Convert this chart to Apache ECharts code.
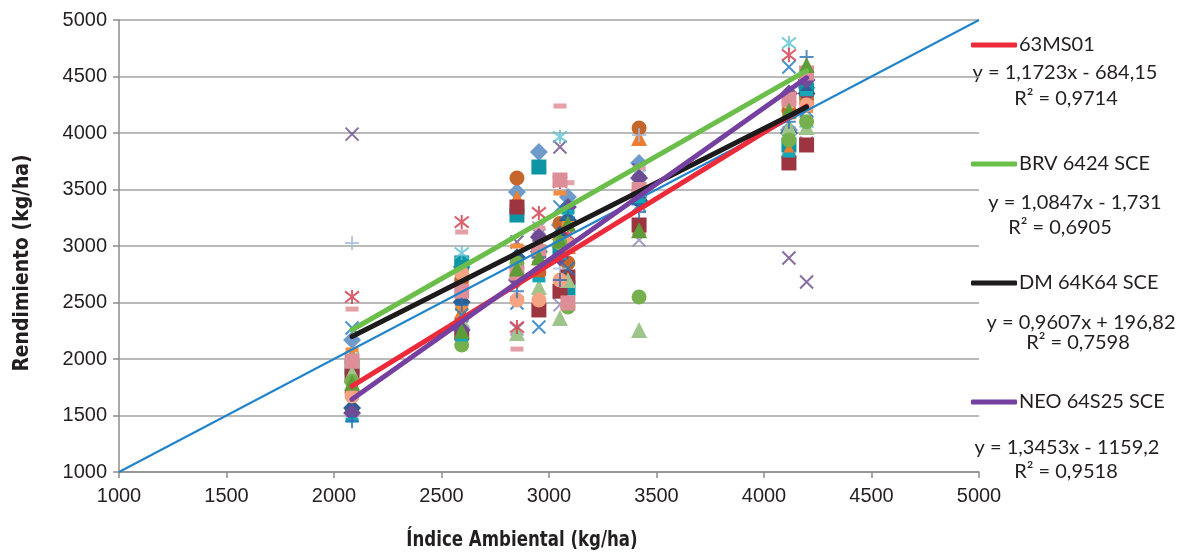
<!DOCTYPE html>
<html>
<head>
<meta charset="utf-8">
<script src="https://cdn.jsdelivr.net/npm/echarts@6/dist/echarts.min.js"></script>
<style>
  html, body { margin: 0; padding: 0; background: #fff; }
  #chart { width: 1180px; height: 556px; }
</style>
</head>
<body>
<div id="chart"></div>
<script>
// Environmental index of each trial site (kg/ha)
const envIndex = [2084, 2594, 2851, 2953, 3051, 3088, 3419, 4116, 4198];

// Yield of each cultivar at every site (kg/ha), same order as envIndex
const c01 = [2168, 2814, 3478, 3832, 3186, 3434, 3735, 4027, 4400];
const c02 = [1929, 2850, 3274, 3699, 2938, 2628, 3425, 3894, 4380];
const c03 = [2035, 2420, 3425, 3027, 3124, 3000, 3956, 3850, 4330];
const c04 = [3990, 2300, 3035, 3097, 3876, 3300, 3673, 2894, 2681];
const c05 = [1600, 2280, 2265, 3160, 2480, 2720, 3053, 4000, 3911];
const c06 = [2009, 2938, 2761, 2903, 3965, 3300, 3628, 4796, 4097];
const c07 = [1700, 2700, 3602, 2761, 3200, 2850, 4044, 4200, 4300];
const c08 = [3027, 2743, 2522, 3097, 2800, 3300, 3982, 4265, 4470];
const c09 = [2442, 3124, 2088, 3159, 4239, 3560, 3690, 4150, 4133];
const c10 = [1566, 2504, 2900, 2950, 3100, 3230, 3400, 4000, 4350];
const c11 = [2080, 2451, 3000, 2850, 3469, 3200, 3124, 4142, 4200];
const c12 = [1850, 2230, 3345, 2434, 2600, 2726, 3186, 3735, 3894];
const c13 = [1876, 2345, 2230, 2637, 2363, 2699, 2257, 4053, 4053];
const c14 = [1522, 2257, 2700, 3080, 2900, 3345, 3602, 4350, 4469];
const c15 = [2274, 2389, 2496, 2283, 3345, 2800, 3363, 4584, 4200];
const c16 = [2549, 3212, 2283, 3292, 3566, 3100, 3450, 4690, 4300];
const c17 = [1673, 2761, 2522, 2522, 2699, 3009, 3496, 4274, 4248];
const c18 = [1800, 2124, 2850, 2950, 3027, 2460, 2549, 3938, 4100];
const c19 = [1460, 2177, 2800, 2700, 2900, 3300, 3400, 3805, 4350];
const c20 = [1980, 2600, 2761, 2950, 3584, 2496, 3500, 4300, 4531];
const c21 = [1450, 2480, 2600, 2900, 2700, 3250, 3300, 4100, 4673];
const c22 = [1790, 2250, 2800, 2900, 3050, 3200, 3140, 4200, 4602];
const cultivarYields = [c01, c02, c03, c04, c05, c06, c07, c08, c09, c10, c11,
                        c12, c13, c14, c15, c16, c17, c18, c19, c20, c21, c22];

// Linear fits for the four highlighted cultivars
const trendNames = ['63MS01', 'BRV 6424 SCE', 'DM 64K64 SCE', 'NEO 64S25 SCE'];
const trendSlopes = [1.1723, 1.0847, 0.9607, 1.3453];
const trendIntercepts = [-684.15, -1.731, 196.82, -1159.2];
const trendR2 = [0.9714, 0.6905, 0.7598, 0.9518];

// Axis ticks (kg/ha)
const axisMin = 1000, axisMax = 5000, axisStep = 500;

// ---- styling ----
const X_PATH = 'path://M0,0L10,10M10,0L0,10';
const PLUS_PATH = 'path://M5,0L5,10M0,5L10,5';
const STAR_PATH = 'path://M1,1L9,9M9,1L1,9M5,0L5,10';
const markerStyles = [
  { symbol: 'diamond', size: 18, color: '#6F9BCB' },
  { symbol: 'rect', size: 15, color: '#0E95A3' },
  { symbol: 'triangle', size: 16, color: '#EE7D32' },
  { symbol: X_PATH, size: 13, color: '#6B4A8A', stroke: true },
  { symbol: X_PATH, size: 13, color: '#9787B8', stroke: true },
  { symbol: STAR_PATH, size: 14, color: '#59C2CF', stroke: true },
  { symbol: 'circle', size: 15, color: '#C5662C' },
  { symbol: PLUS_PATH, size: 14, color: '#A3B9DA', stroke: true },
  { symbol: 'rect', size: [13, 5], color: '#E4A0A6' },
  { symbol: 'diamond', size: 18, color: '#2B5F93' },
  { symbol: 'rect', size: [13, 5], color: '#F28C3E' },
  { symbol: 'rect', size: 15, color: '#9C3540' },
  { symbol: 'triangle', size: 16, color: '#9DC48A' },
  { symbol: 'diamond', size: 18, color: '#6E4C95' },
  { symbol: X_PATH, size: 13, color: '#1E78C0', stroke: true },
  { symbol: STAR_PATH, size: 14, color: '#D03A48', stroke: true },
  { symbol: 'circle', size: 15, color: '#F4A383' },
  { symbol: 'circle', size: 15, color: '#76AF4E' },
  { symbol: 'rect', size: [13, 5], color: '#13A7B8' },
  { symbol: 'rect', size: 15, color: '#DD8E96' },
  { symbol: PLUS_PATH, size: 14, color: '#2D6FB3', stroke: true },
  { symbol: 'triangle', size: 16, color: '#5E9C3A' }
];
const trendColors = ['#EC2A3A', '#6CBE4A', '#1C1A1A', '#7540A0'];
const identityColor = '#2184CB';

const textFont = 'Lato, "Open Sans", sans-serif';
const tickFont = '"Liberation Sans", Arial, sans-serif';
const titleFont = '"Liberation Sans Narrow", "DejaVu Sans Condensed", sans-serif';

// Legend / equation block layout on the right
const legendRowY = [45, 164, 283, 402];
const eqRowY = [73, 203, 323, 448];
const eqCenterX = [1065, 1075, 1081, 1067];
const r2RowY = [99, 228, 343, 472];
const r2CenterX = [1066, 1060, 1078, 1066];

const dec = v => String(v).replace('.', ',');
function equationText(i) {
  const b = trendIntercepts[i];
  return 'y = ' + dec(trendSlopes[i]) + 'x ' + (b < 0 ? '- ' : '+ ') + dec(Math.abs(b));
}

const series = [];

cultivarYields.forEach((ys, i) => {
  const st = markerStyles[i];
  series.push({
    type: 'scatter',
    name: 'cultivar-' + (i + 1),
    data: envIndex.map((x, k) => [x, ys[k]]),
    symbol: st.symbol,
    symbolSize: st.size,
    z: 2,
    itemStyle: st.stroke
      ? { color: st.color, borderColor: st.color, borderWidth: 2 }
      : { color: st.color, opacity: 1 },
    emphasis: { disabled: true }
  });
});

// 1:1 reference line
series.push({
  type: 'line',
  name: '1:1',
  data: [[axisMin, axisMin], [axisMax, axisMax]],
  symbol: 'none',
  z: 3,
  lineStyle: { color: identityColor, width: 2 },
  emphasis: { disabled: true }
});

// Fitted lines over the sampled environmental range
const xLo = Math.min(...envIndex), xHi = Math.max(...envIndex);
trendNames.forEach((nm, i) => {
  series.push({
    type: 'line',
    name: nm,
    data: [xLo, xHi].map(x => [x, trendSlopes[i] * x + trendIntercepts[i]]),
    symbol: 'none',
    z: 4,
    lineStyle: { color: trendColors[i], width: 5, cap: 'round' },
    itemStyle: { color: trendColors[i] },
    emphasis: { disabled: true }
  });
});

const legends = trendNames.map((nm, i) => ({
  data: [{ name: nm, icon: 'roundRect' }],
  left: 971,
  top: legendRowY[i] - 12,
  padding: 0,
  itemWidth: 46,
  itemHeight: 5,
  selectedMode: false,
  textStyle: { fontFamily: textFont, fontSize: 20, color: '#231F20', lineHeight: 24, padding: [0, 0, 0, -3] }
}));

const graphics = [];
trendNames.forEach((nm, i) => {
  graphics.push({
    type: 'text', x: eqCenterX[i], y: eqRowY[i],
    style: { text: equationText(i), font: '20px ' + textFont, fill: '#231F20',
             textAlign: 'center', textVerticalAlign: 'middle' }
  });
  graphics.push({
    type: 'text', x: r2CenterX[i], y: r2RowY[i],
    style: { text: 'R² = ' + dec(trendR2[i]), font: '20px ' + textFont, fill: '#231F20',
             textAlign: 'center', textVerticalAlign: 'middle' }
  });
});
// Axis titles (condensed bold)
graphics.push({
  type: 'text', x: 522, y: 540, scaleX: 0.84,
  style: { text: 'Índice Ambiental (kg/ha)', font: 'bold 22px ' + titleFont, fill: '#231F20',
           textAlign: 'center', textVerticalAlign: 'middle' }
});
graphics.push({
  type: 'text', x: 22, y: 263, rotation: Math.PI / 2, scaleX: 0.95,
  style: { text: 'Rendimiento (kg/ha)', font: 'bold 22px ' + titleFont, fill: '#231F20',
           textAlign: 'center', textVerticalAlign: 'middle' }
});

const axisCommon = {
  type: 'value',
  min: axisMin,
  max: axisMax,
  interval: axisStep,
  axisLine: { show: true, lineStyle: { color: '#8C8C8C', width: 1.5 } },
  axisTick: { show: true, length: 6, lineStyle: { color: '#8C8C8C', width: 1.5 } },
  axisLabel: { fontFamily: tickFont, fontSize: 20, color: '#231F20',
               formatter: v => String(v) }
};

const chart = echarts.init(document.getElementById('chart'), null, { renderer: 'canvas' });
chart.setOption({
  animation: false,
  backgroundColor: '#ffffff',
  grid: { left: 119, right: 201, top: 20, bottom: 84, containLabel: false },
  xAxis: Object.assign({}, axisCommon, {
    splitLine: { show: false },
    axisLabel: Object.assign({}, axisCommon.axisLabel, { margin: 14 })
  }),
  yAxis: Object.assign({}, axisCommon, {
    splitLine: { show: true, lineStyle: { color: '#A3A3A3', width: 1.5 } },
    axisLabel: Object.assign({}, axisCommon.axisLabel, { margin: 12 })
  }),
  legend: legends,
  graphic: graphics,
  series: series
});
</script>
</body>
</html>
